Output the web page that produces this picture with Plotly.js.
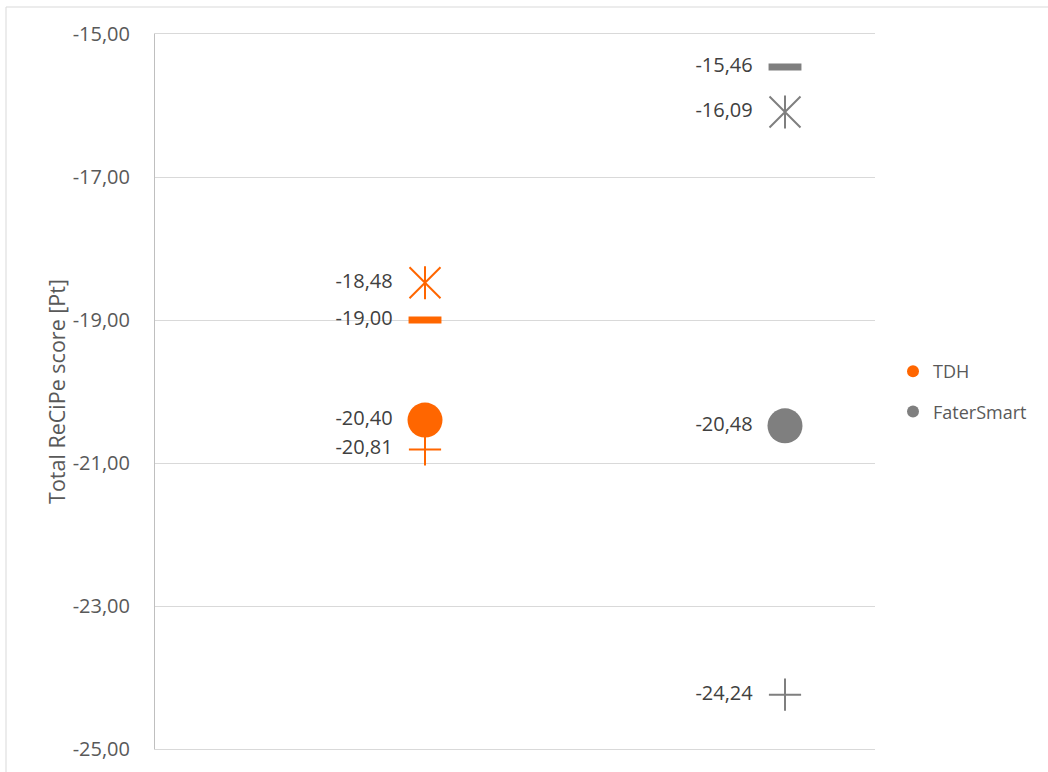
<!DOCTYPE html>
<html><head><meta charset="utf-8">
<script src="https://cdn.plot.ly/plotly-3.0.1.min.js"></script>
<style>html,body{margin:0;padding:0;background:#fff}#chart{width:1048px;height:772px}</style>
</head><body><div id="chart"></div>
<script>
// ---- data ----
const categories = ['TDH', 'FaterSmart'];
const seriesColors = ['#FF6600', '#7F7F7F'];
const circleValues = [-20.40, -20.48];
const asteriskValues = [-18.48, -16.09];
const dashValues = [-19.00, -15.46];
const plusValues = [-20.81, -24.24];
const yTickValues = [-25, -23, -21, -19, -17, -15];
const yAxisTitle = 'Total ReCiPe score [Pt]';

const FONT = '"Open Sans", "Noto Sans", sans-serif';
const fmt = v => v.toFixed(2).replace('.', ',');

function symbolTrace(values, symbol, size, lw) {
  return {
    type: 'scatter', mode: 'markers', x: categories, y: values,
    showlegend: false, hoverinfo: 'skip', cliponaxis: false,
    marker: {symbol: symbol, size: size, color: seriesColors,
             line: {width: lw, color: seriesColors}}
  };
}

const traces = [
  symbolTrace(plusValues, 'cross-thin-open', 23, 2),
  symbolTrace(dashValues, 'line-ew-open', 23.5, 7),
  symbolTrace(asteriskValues, 'x-thin-open', 31, 2),
  symbolTrace(asteriskValues, 'line-ns-open', 23.5, 2)
];
categories.forEach((c, i) => {
  traces.push({
    type: 'scatter', mode: 'markers', x: [c], y: [circleValues[i]],
    name: c, legendgroup: c, showlegend: true, cliponaxis: false,
    marker: {symbol: 'circle', size: 35, color: seriesColors[i]}
  });
});
// data labels
const labX = [], labY = [], labT = [];
[circleValues, asteriskValues, dashValues, plusValues].forEach(arr => {
  arr.forEach((v, i) => { labX.push(categories[i]); labY.push(v); labT.push(fmt(v)); });
});
traces.push({
  type: 'scatter', mode: 'markers+text', x: labX, y: labY, text: labT,
  textposition: 'middle left', showlegend: false, hoverinfo: 'skip', cliponaxis: false,
  textfont: {family: FONT, size: 20, color: '#404040'},
  marker: {size: 50, color: 'rgba(0,0,0,0)'}
});

const L = 155, R = 875, T = 34, B = 749, W = 1048, H = 772;
const px = x => (x - L) / (R - L);
const py = y => (B - y) / (B - T);

const layout = {
  width: W, height: H,
  margin: {l: L, r: W - R, t: T, b: H - B, pad: 0},
  paper_bgcolor: '#ffffff', plot_bgcolor: '#ffffff',
  separators: ', ',
  font: {family: FONT, color: '#595959'},
  xaxis: {type: 'category', categoryorder: 'array', categoryarray: categories,
          range: [-0.75, 1.25], showgrid: false, zeroline: false,
          showline: true, mirror: true, linecolor: '#d9d9d9', linewidth: 1,
          showticklabels: false, ticks: '', fixedrange: true},
  yaxis: {range: [-25, -15], tickvals: yTickValues, ticktext: yTickValues.map(fmt),
          showgrid: true, gridcolor: '#d9d9d9', gridwidth: 1,
          showline: true, linecolor: '#bfbfbf', linewidth: 1, zeroline: false,
          ticks: '', ticklabelstandoff: 20, automargin: false,
          tickfont: {family: FONT, size: 20, color: '#595959'},
          title: {text: yAxisTitle, font: {family: FONT, size: 21.5, color: '#595959'}}},
  legend: {x: px(893), xanchor: 'left', y: 0.5, yanchor: 'middle',
           font: {family: FONT, size: 18, color: '#595959'},
           bgcolor: 'rgba(0,0,0,0)', itemsizing: 'constant', tracegroupgap: 14},
  shapes: [{type: 'rect', xref: 'paper', yref: 'paper',
            x0: px(6), x1: px(1070), y0: py(800), y1: py(7),
            line: {color: '#d9d9d9', width: 1}, fillcolor: 'rgba(0,0,0,0)', layer: 'below'}],
  showlegend: true
};

Plotly.newPlot('chart', traces, layout, {displayModeBar: false, staticPlot: true});
</script></body></html>
